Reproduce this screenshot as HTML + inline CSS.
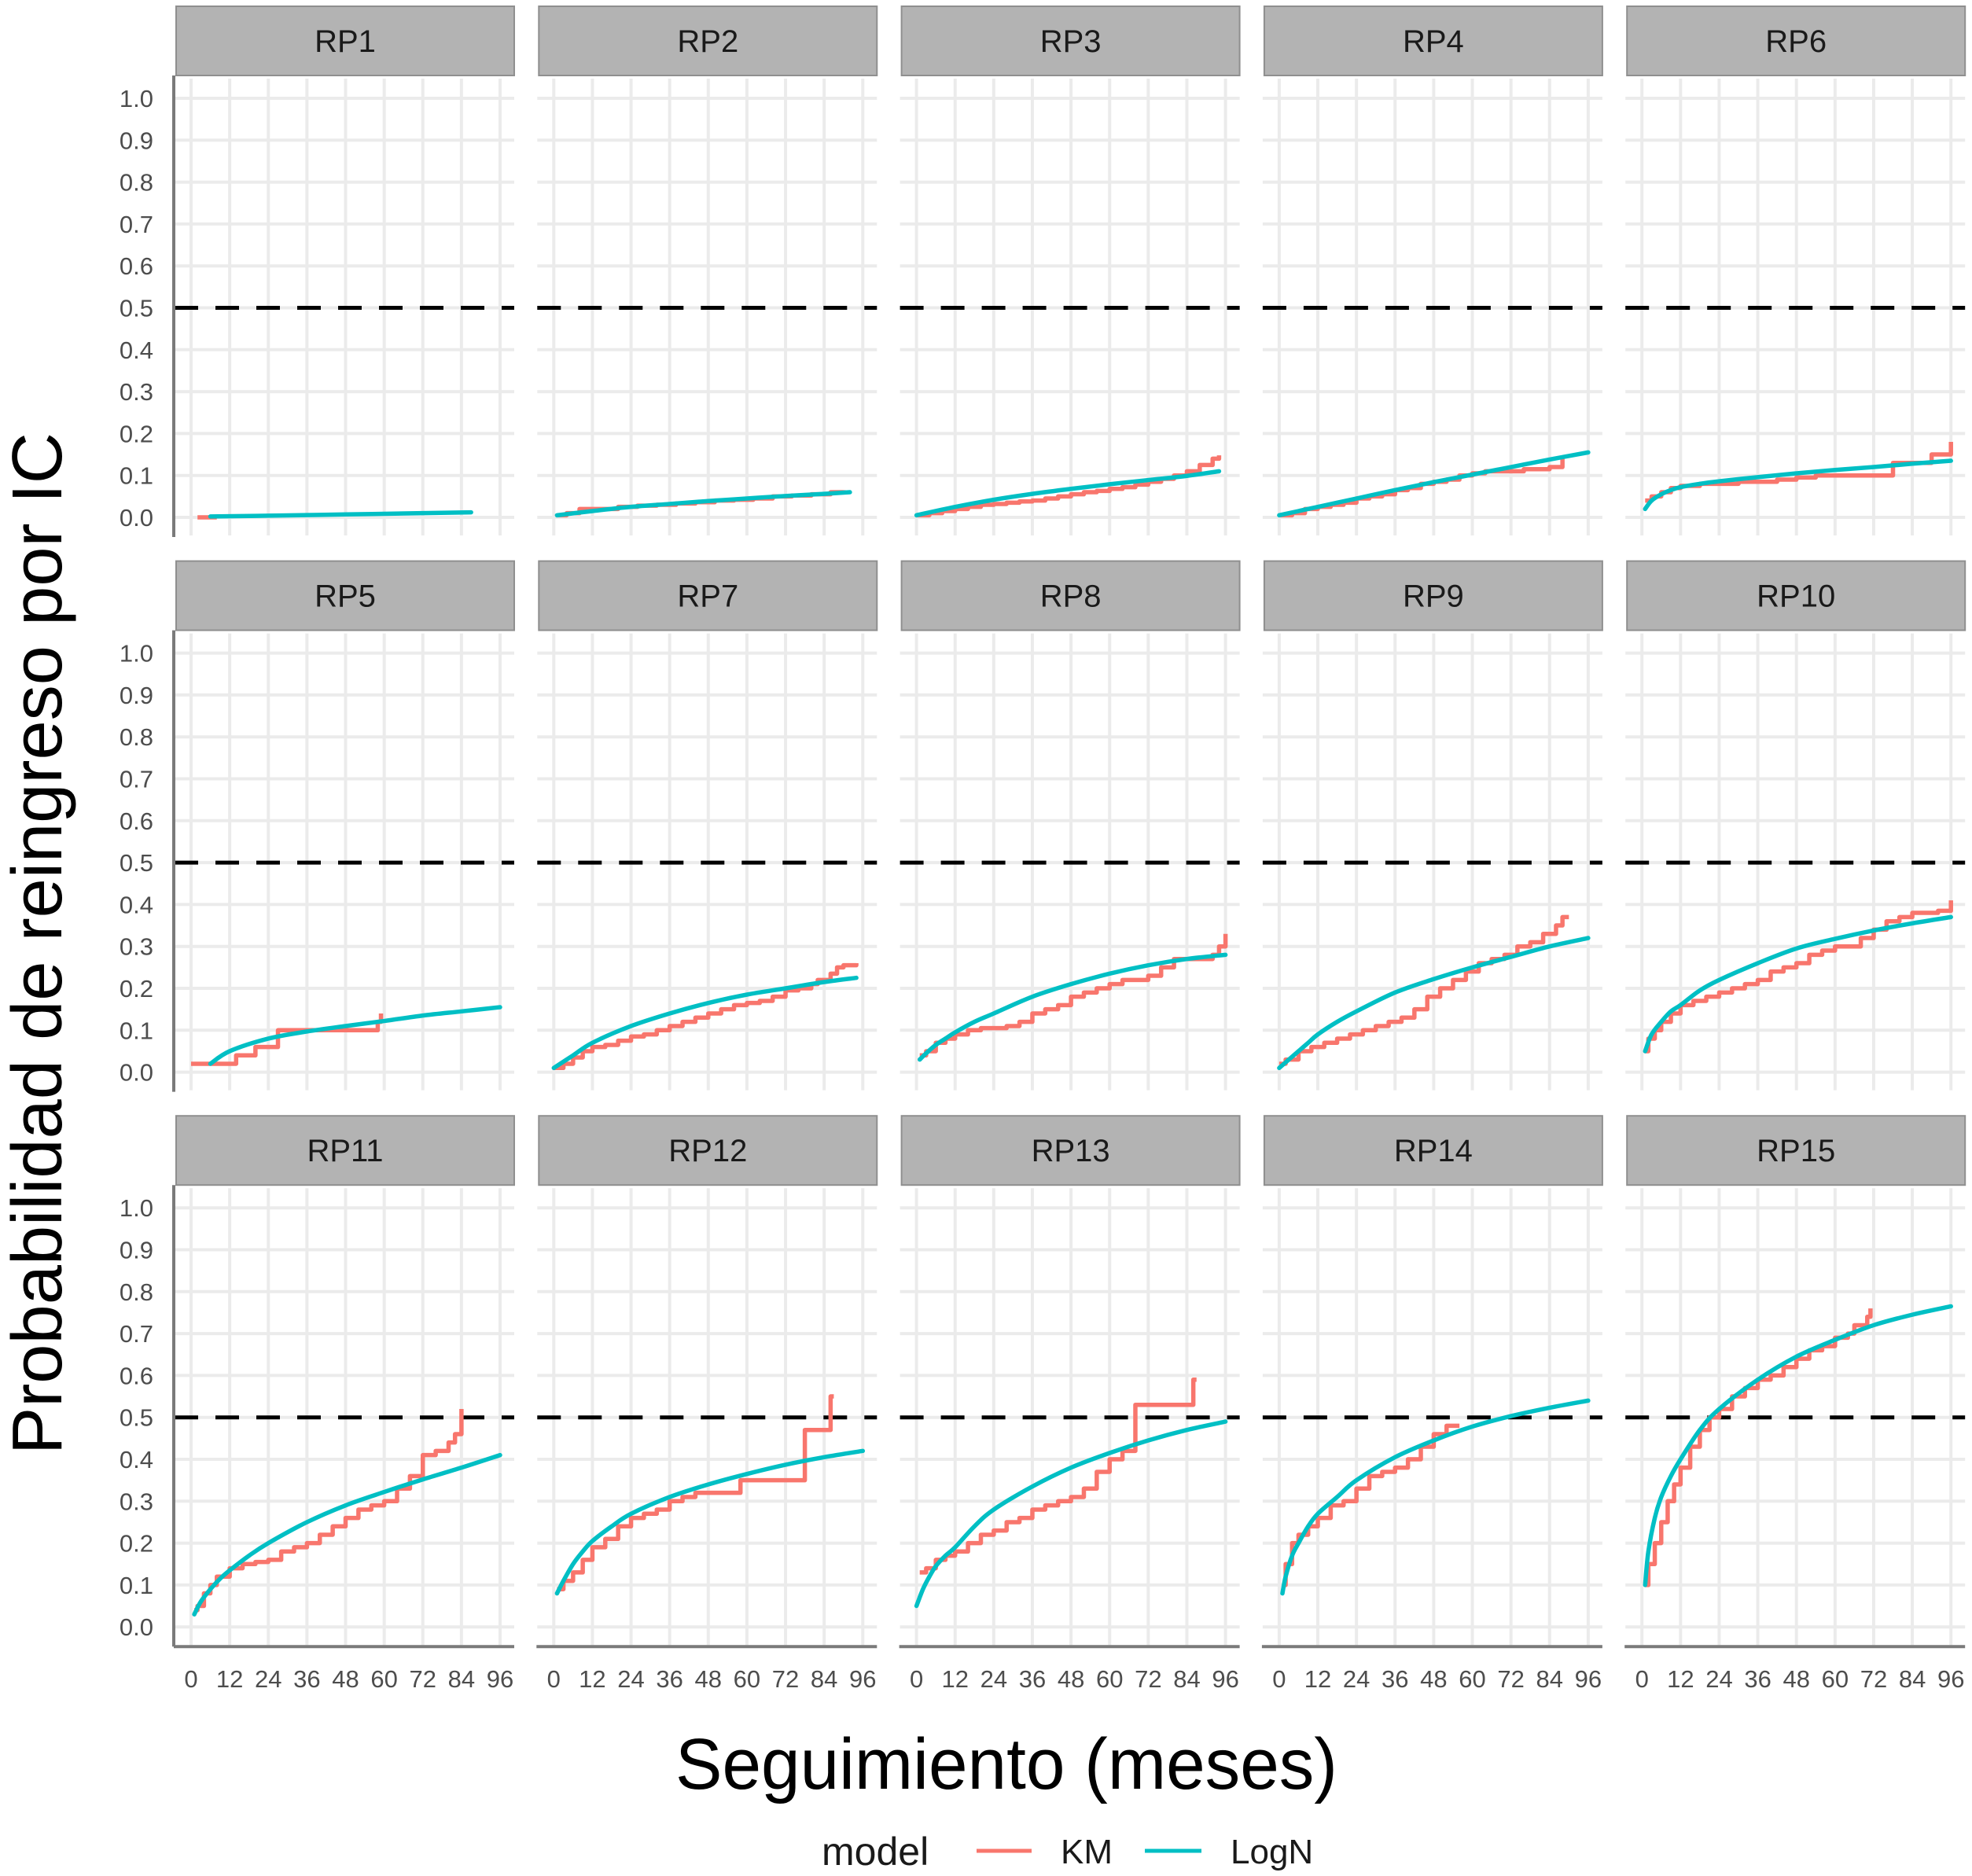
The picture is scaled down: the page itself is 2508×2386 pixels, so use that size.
<!DOCTYPE html>
<html><head><meta charset="utf-8">
<style>html,body{margin:0;padding:0;background:#fff}svg{display:block}</style>
</head><body>
<svg id="chart" xmlns="http://www.w3.org/2000/svg" width="2508" height="2386" viewBox="0 0 2508 2386" font-family="'Liberation Sans', sans-serif">
<rect width="2508" height="2386" fill="#fff"/>
<g id="panels"></g>
<text transform="translate(78,1200) rotate(-90)" text-anchor="middle" font-size="90" fill="#000" textLength="1300" lengthAdjust="spacingAndGlyphs">Probabilidad de reingreso por IC</text>
<text x="1280" y="2275" text-anchor="middle" font-size="92" fill="#000" textLength="842" lengthAdjust="spacingAndGlyphs">Seguimiento (meses)</text>
<g>
<text x="1045" y="2372" font-size="50" fill="#1a1a1a">model</text>
<line x1="1242" y1="2354" x2="1312" y2="2354" stroke="#F8766D" stroke-width="5"/>
<text x="1349" y="2370" font-size="44" fill="#1a1a1a">KM</text>
<line x1="1456" y1="2354" x2="1528" y2="2354" stroke="#00BFC4" stroke-width="5"/>
<text x="1565" y="2370" font-size="44" fill="#1a1a1a">LogN</text>
</g>
</svg>
<script>
const panelNames = ["RP1","RP2","RP3","RP4","RP6","RP5","RP7","RP8","RP9","RP10","RP11","RP12","RP13","RP14","RP15"];
const yTicks = [0,0.1,0.2,0.3,0.4,0.5,0.6,0.7,0.8,0.9,1.0];
const yTickLabels = ["0.0","0.1","0.2","0.3","0.4","0.5","0.6","0.7","0.8","0.9","1.0"];
const xTicks = [0,12,24,36,48,60,72,84,96];
const xTickLabels = ["0","12","24","36","48","60","72","84","96"];
const refLine = 0.5;

const kmTimes = [
 [2,8],
 [1,4,8,14,20,26,32,38,44,50,56,62,68,74,80,86,90],
 [0,4,8,12,16,20,24,28,32,36,40,44,48,52,56,60,64,68,72,76,80,84,88,92,94],
 [0,4,8,12,16,20,24,28,32,36,40,44,48,52,56,60,64,68,72,76,80,84,88],
 [1,3,6,9,12,18,24,30,36,42,48,54,60,66,72,78,84,90,95,96],
 [0,14,20,27,56,58,59],
 [0,3,6,9,12,16,20,24,28,32,36,40,44,48,52,56,60,64,68,72,76,80,82,86,88,90,94],
 [1,3,6,9,12,16,20,24,28,32,36,40,44,48,52,56,60,64,68,72,76,80,84,88,92,94,96],
 [0,2,6,10,14,18,22,26,30,34,38,42,46,50,54,58,62,66,70,74,78,82,86,88,90],
 [1,2,4,6,9,12,16,20,24,28,32,36,40,44,48,52,56,60,64,68,72,76,80,84,88,92,95,96],
 [1,2,4,6,8,12,16,20,24,28,32,36,40,44,48,52,56,60,64,68,72,76,80,82,84],
 [1,3,6,9,12,16,20,24,28,32,36,40,44,58,78,86,87],
 [1,3,6,9,12,16,20,24,28,32,36,40,44,48,52,56,60,64,68,86,87],
 [1,2,4,6,9,12,16,20,24,28,32,36,40,44,48,52,56],
 [1,2,4,6,8,10,12,15,18,21,24,28,32,36,40,44,48,52,56,60,64,66,70,71]
];
const kmValues = [
 [0.0,0.0],
 [0.005,0.01,0.02,0.02,0.025,0.028,0.03,0.033,0.036,0.04,0.042,0.045,0.05,0.052,0.055,0.06,0.065],
 [0.005,0.01,0.015,0.02,0.025,0.03,0.032,0.035,0.038,0.04,0.045,0.05,0.055,0.06,0.063,0.068,0.072,0.078,0.085,0.092,0.1,0.11,0.125,0.14,0.148],
 [0.005,0.01,0.02,0.025,0.03,0.035,0.045,0.05,0.055,0.065,0.07,0.08,0.085,0.09,0.1,0.105,0.11,0.11,0.11,0.115,0.115,0.12,0.14],
 [0.04,0.05,0.06,0.07,0.075,0.08,0.08,0.085,0.085,0.09,0.095,0.1,0.1,0.1,0.1,0.13,0.13,0.15,0.15,0.18],
 [0.02,0.04,0.06,0.1,0.1,0.12,0.14],
 [0.01,0.02,0.035,0.05,0.06,0.065,0.075,0.085,0.09,0.1,0.11,0.12,0.13,0.14,0.15,0.16,0.165,0.17,0.18,0.195,0.2,0.21,0.22,0.235,0.25,0.255,0.26],
 [0.04,0.05,0.07,0.08,0.09,0.1,0.105,0.105,0.11,0.12,0.14,0.15,0.16,0.18,0.19,0.2,0.21,0.22,0.22,0.23,0.25,0.27,0.27,0.27,0.28,0.3,0.33],
 [0.02,0.03,0.05,0.06,0.07,0.08,0.09,0.1,0.11,0.12,0.13,0.15,0.18,0.2,0.22,0.24,0.26,0.27,0.28,0.3,0.31,0.33,0.35,0.37,0.37],
 [0.05,0.08,0.1,0.12,0.14,0.16,0.17,0.18,0.19,0.2,0.21,0.22,0.24,0.25,0.26,0.28,0.29,0.3,0.3,0.32,0.34,0.36,0.37,0.38,0.38,0.385,0.385,0.41],
 [0.04,0.05,0.08,0.1,0.12,0.14,0.15,0.155,0.16,0.18,0.19,0.2,0.22,0.24,0.26,0.28,0.29,0.3,0.33,0.36,0.41,0.42,0.44,0.46,0.52],
 [0.09,0.11,0.13,0.16,0.19,0.21,0.24,0.26,0.27,0.28,0.3,0.31,0.32,0.35,0.47,0.55,0.55],
 [0.13,0.14,0.16,0.17,0.18,0.2,0.22,0.23,0.25,0.26,0.28,0.29,0.3,0.31,0.33,0.37,0.4,0.42,0.53,0.59,0.59],
 [0.1,0.15,0.2,0.22,0.24,0.26,0.29,0.3,0.33,0.36,0.37,0.38,0.4,0.43,0.46,0.48,0.48],
 [0.1,0.15,0.2,0.25,0.3,0.34,0.38,0.43,0.47,0.5,0.52,0.55,0.57,0.59,0.6,0.62,0.64,0.66,0.67,0.69,0.7,0.72,0.74,0.76]
];

const lnTimes = [
 [6,24,48,72,87],
 [1,12,24,36,48,60,72,84,92],
 [0,12,24,36,48,60,72,84,94],
 [0,12,24,36,48,60,72,84,96],
 [1,3,6,9,12,18,24,36,48,60,72,84,96],
 [6,12,24,36,48,60,72,84,96],
 [0,6,12,24,36,48,60,72,84,94],
 [1,3,6,9,12,18,24,36,48,60,72,84,96],
 [0,3,6,9,12,18,24,36,48,60,72,84,96],
 [1,3,6,9,12,18,24,36,48,60,72,84,96],
 [1,3,6,9,12,18,24,36,48,60,72,84,96],
 [1,3,6,9,12,18,24,36,48,60,72,84,96],
 [0,2,4,6,9,12,18,24,36,48,60,72,84,96],
 [1,2,4,6,9,12,18,24,36,48,60,72,84,96],
 [1,2,4,6,9,12,18,24,36,48,60,72,84,96]
];
const lnValues = [
 [0.002,0.004,0.007,0.01,0.012],
 [0.005,0.015,0.025,0.032,0.039,0.045,0.051,0.056,0.06],
 [0.005,0.025,0.042,0.056,0.068,0.079,0.089,0.099,0.11],
 [0.005,0.025,0.045,0.065,0.084,0.102,0.12,0.138,0.155],
 [0.02,0.04,0.055,0.065,0.072,0.08,0.086,0.096,0.105,0.113,0.12,0.128,0.135],
 [0.02,0.05,0.08,0.097,0.11,0.122,0.135,0.145,0.155],
 [0.01,0.04,0.07,0.11,0.14,0.165,0.185,0.2,0.215,0.225],
 [0.03,0.045,0.065,0.08,0.095,0.12,0.14,0.18,0.21,0.235,0.255,0.27,0.28],
 [0.01,0.03,0.05,0.07,0.09,0.12,0.145,0.19,0.222,0.25,0.275,0.3,0.32],
 [0.05,0.09,0.12,0.145,0.16,0.195,0.22,0.26,0.295,0.318,0.338,0.355,0.37],
 [0.03,0.06,0.09,0.115,0.135,0.17,0.2,0.25,0.29,0.322,0.352,0.38,0.41],
 [0.08,0.11,0.15,0.18,0.205,0.24,0.27,0.31,0.34,0.365,0.387,0.405,0.42],
 [0.05,0.09,0.12,0.145,0.17,0.19,0.24,0.28,0.335,0.38,0.415,0.445,0.47,0.49],
 [0.08,0.12,0.17,0.2,0.24,0.27,0.31,0.35,0.405,0.445,0.478,0.503,0.523,0.54],
 [0.1,0.18,0.26,0.31,0.36,0.4,0.47,0.52,0.59,0.645,0.685,0.72,0.745,0.765]
];

const NS = "http://www.w3.org/2000/svg";
const root = document.getElementById("panels");
function mk(tag, attrs, parent){const e=document.createElementNS(NS,tag);for(const k in attrs)e.setAttribute(k,attrs[k]);parent.appendChild(e);return e;}

panelNames.forEach((name, p) => {
  const col = p % 5, row = Math.floor(p / 5);
  const L = 224 + 461.3 * col, T = 8 + 705.6 * row;
  const xs = t => L + 19 + t * 393 / 96;
  const ys = v => T + 650 - v * 533;
  const g = mk("g", {}, root);
  
  
  const strip = mk("rect", {x:L, y:T, width:430, height:88, fill:"#b3b3b3", stroke:"#8f8f8f", "stroke-width":2}, g);
  
  
  const st = mk("text", {x:L+215, y:T+58, "text-anchor":"middle", "font-size":40, fill:"#1a1a1a"}, g);
  st.textContent = name;
  
  
  yTicks.forEach(v => {
    const l = mk("line", {x1:L-2, x2:L+430, y1:ys(v), y2:ys(v), stroke:"#ebebeb", "stroke-width":4}, g);
    
    
  });
  xTicks.forEach(t => {
    const l = mk("line", {x1:xs(t), x2:xs(t), y1:T+92, y2:T+673, stroke:"#ebebeb", "stroke-width":4}, g);
    
    
  });
  const rl = mk("line", {x1:L-2, x2:L+430, y1:ys(refLine), y2:ys(refLine), stroke:"#000", "stroke-width":5, "stroke-dasharray":"30 22"}, g);
  
  
  if (col === 0) {
    const ax = mk("line", {x1:L-3, x2:L-3, y1:T+88, y2:T+675, stroke:"#7a7a7a", "stroke-width":4}, g);
    
    
    yTicks.forEach((v, i) => {
      const tx = mk("text", {x:L-29, y:ys(v)+11, "text-anchor":"end", "font-size":31, fill:"#4d4d4d"}, g);
      tx.textContent = yTickLabels[i];
      
      
    });
  }
  if (row === 2) {
    const ax = mk("line", {x1:L-3, x2:L+430, y1:T+675, y2:T+675, stroke:"#7a7a7a", "stroke-width":4}, g);
    
    
    xTicks.forEach((t, i) => {
      const tx = mk("text", {x:xs(t), y:T+727, "text-anchor":"middle", "font-size":31, fill:"#4d4d4d"}, g);
      tx.textContent = xTickLabels[i];
      
      
    });
  }
  const kt = kmTimes[p], kv = kmValues[p];
  let d = "M" + xs(kt[0]) + "," + ys(kv[0]);
  for (let i = 1; i < kt.length; i++) d += " H" + xs(kt[i]) + " V" + ys(kv[i]);
  const km = mk("path", {d:d, fill:"none", stroke:"#F8766D", "stroke-width":5.5, "stroke-linejoin":"round"}, g);
  
  
  const lt = lnTimes[p], lv = lnValues[p];
  const pts = lt.map((t, i) => [xs(t), ys(lv[i])]);
  let c = "M" + pts[0][0] + "," + pts[0][1];
  for (let i = 0; i < pts.length - 1; i++) {
    const p0 = pts[Math.max(0, i-1)], p1 = pts[i], p2 = pts[i+1], p3 = pts[Math.min(pts.length-1, i+2)];
    const c1 = [p1[0] + (p2[0]-p0[0])/6, p1[1] + (p2[1]-p0[1])/6];
    const c2 = [p2[0] - (p3[0]-p1[0])/6, p2[1] - (p3[1]-p1[1])/6];
    c += " C" + c1[0] + "," + c1[1] + " " + c2[0] + "," + c2[1] + " " + p2[0] + "," + p2[1];
  }
  const ln = mk("path", {d:c, fill:"none", stroke:"#00BFC4", "stroke-width":5.5, "stroke-linecap":"round"}, g);
  
  
});
</script>
</body></html>
